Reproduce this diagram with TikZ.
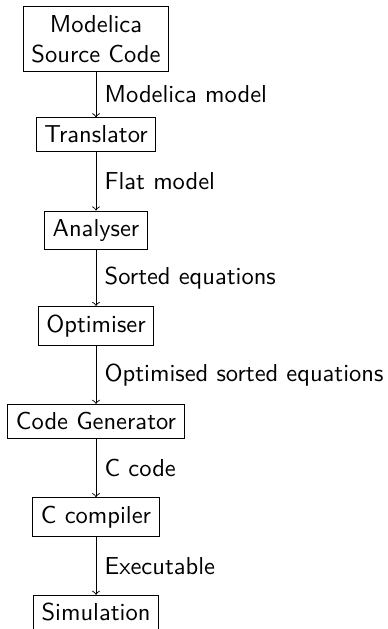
\documentclass[tikz,border=0pt,11pt]{standalone}
\usepackage{tikz}
\usetikzlibrary{arrows, positioning, calc}

\begin{document}
\begin{tikzpicture}[
    every node/.style={font=\sffamily},
    stagebox/.style={draw=black, rectangle, align=center},
    flowlabel/.style={midway, right, draw=none}
  ]
  \useasboundingbox (-1.507,0.612) rectangle (4.567,-9.26);

  % Compiler stages, top to bottom
  \node[stagebox] (src)  at (0,0)    {Modelica\\Source Code};
  \node[stagebox] (trans) at (0,-1.5) {Translator};
  \node[stagebox] (anal) at (0,-3)   {Analyser};
  \node[stagebox] (opt)  at (0,-4.5) {Optimiser};
  \node[stagebox] (gen)  at (0,-6)   {Code Generator};
  \node[stagebox] (cc)   at (0,-7.5) {C compiler};
  \node[stagebox] (sim)  at (0,-9)   {Simulation};

  % What is passed from one stage to the next
  \draw[->] (src) -- (trans) node[flowlabel] {Modelica model};
  \draw[->] (trans) -- (anal) node[flowlabel] {Flat model};
  \draw[->] (anal) -- (opt) node[flowlabel] {Sorted equations};
  \draw[->] (opt) -- (gen) node[flowlabel] {Optimised sorted equations};
  \draw[->] (gen) -- (cc) node[flowlabel] {C code};
  \draw[->] (cc) -- (sim) node[flowlabel] {Executable};
\end{tikzpicture}
\end{document}
